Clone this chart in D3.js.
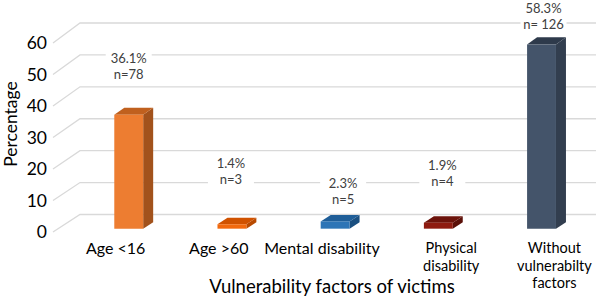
<!DOCTYPE html>
<html>
<head>
<meta charset="utf-8">
<script src="https://cdn.jsdelivr.net/npm/d3@7"></script>
<style>
  body { margin: 0; background: #fff; }
  svg { display: block; font-family: Lato, "Open Sans", sans-serif; }
</style>
</head>
<body>
<div id="chart"></div>
<script>
// Dữ liệu
const categories = ["Age <16", "Age >60", "Mental disability", "Physical disability", "Without vulnerabilty factors"];
const categoryLines = [["Age <16"], ["Age >60"], ["Mental disability"], ["Physical", "disability"], ["Without", "vulnerabilty", "factors"]];
const percents = [36.1, 1.4, 2.3, 1.9, 58.3];
const counts = ["n=78", "n=3", "n=5", "n=4", "n= 126"];
const yTicks = [0, 10, 20, 30, 40, 50, 60];

// màu: mặt trước, mặt trên, mặt bên
const frontColors = ["#ED7D31", "#F2690D", "#2E75B6", "#8E1B10", "#44546A"];
const topColors = ["#C0601E", "#D05200", "#1F5E98", "#6C130B", "#2E3A4B"];
const sideColors = ["#A2521C", "#B84A00", "#1A4F80", "#5A0F08", "#323E4F"];

// vị trí nhãn giá trị (lệch so với đỉnh cột)
const labelShift = [[0, -56], [-1, -61], [8, -38], [4, -57], [2, -36]];

const width = 596, height = 298;
const depthX = 27;            // độ sâu 3D theo x
const z0 = 0.19, z1 = 0.56;   // cột nằm giữa mặt trước và vách sau

const svg = d3.select("#chart").append("svg")
    .attr("width", width)
    .attr("height", height);

const x = d3.scaleBand()
    .domain(categories)
    .range([72, 588])
    .paddingInner(0.72)
    .paddingOuter(0.36);

const yFront = d3.scaleLinear().domain([0, 60]).range([232, 43]);
const yBack = d3.scaleLinear().domain([0, 60]).range([214.5, 23]);

// chiếu điểm (x mặt trước, giá trị, độ sâu z)
function px(xf, z) { return xf + depthX * z; }
function py(v, z) { return yFront(v) * (1 - z) + yBack(v) * z; }

// --- lưới ---
const grid = svg.append("g");
yTicks.forEach(t => {
    grid.append("path")
        .attr("d", `M53,${yFront(t)} L${53 + depthX},${yBack(t)} L${width},${yBack(t)}`)
        .attr("fill", "none")
        .attr("stroke", "#d9d9d9")
        .attr("stroke-width", 1.3);
});

// nhãn trục y
svg.append("g").selectAll("text")
    .data(yTicks)
    .enter().append("text")
    .attr("x", 47)
    .attr("y", d => yFront(d))
    .attr("dy", "0.35em")
    .attr("text-anchor", "end")
    .attr("font-size", 17.5)
    .attr("fill", "#000")
    .text(d => d);

svg.append("text")
    .attr("transform", `translate(17, 124) rotate(-90)`)
    .attr("text-anchor", "middle")
    .attr("font-size", 17.5)
    .attr("fill", "#000")
    .text("Percentage");

// --- cột 3D ---
const bars = svg.append("g");
percents.forEach((v, i) => {
    const xl = x(categories[i]), xr = xl + x.bandwidth();
    const p = (xf, val, z) => `${px(xf, z)},${py(val, z)}`;
    // mặt bên
    bars.append("polygon")
        .attr("points", [p(xr, 0, z0), p(xr, 0, z1), p(xr, v, z1), p(xr, v, z0)].join(" "))
        .attr("fill", sideColors[i]);
    // mặt trên
    bars.append("polygon")
        .attr("points", [p(xl, v, z0), p(xr, v, z0), p(xr, v, z1), p(xl, v, z1)].join(" "))
        .attr("fill", topColors[i]);
    // mặt trước
    bars.append("polygon")
        .attr("points", [p(xl, 0, z0), p(xr, 0, z0), p(xr, v, z0), p(xl, v, z0)].join(" "))
        .attr("fill", frontColors[i]);
});

// --- nhãn giá trị ---
const labels = svg.append("g");
percents.forEach((v, i) => {
    const cx = px(x(categories[i]) + x.bandwidth() / 2, z0) + labelShift[i][0];
    const ty = py(v, z0) + labelShift[i][1];
    labels.append("rect")
        .attr("x", cx - 23)
        .attr("y", ty - 10)
        .attr("width", 46)
        .attr("height", 36)
        .attr("fill", "#fff");
    labels.append("text")
        .attr("x", cx).attr("y", ty).attr("dy", "0.35em")
        .attr("text-anchor", "middle")
        .attr("font-size", 13)
        .attr("fill", "#404040")
        .text(`${v.toFixed(1)}%`);
    labels.append("text")
        .attr("x", cx).attr("y", ty + 16).attr("dy", "0.35em")
        .attr("text-anchor", "middle")
        .attr("font-size", 13)
        .attr("fill", "#404040")
        .text(counts[i]);
});

// --- nhãn danh mục ---
const cats = svg.append("g");
categoryLines.forEach((lines, i) => {
    const c = x(categories[i]) + x.bandwidth() / 2;
    const cx = lines.length > 1 ? c + 18 : c - 8;
    lines.forEach((line, j) => {
        cats.append("text")
            .attr("x", cx)
            .attr("y", 248 + j * 17.5)
            .attr("dy", "0.35em")
            .attr("text-anchor", "middle")
            .attr("font-size", lines.length > 1 ? 14.5 : 16)
            .attr("fill", "#000")
            .text(line);
    });
});

svg.append("text")
    .attr("x", 332)
    .attr("y", 287)
    .attr("dy", "0.35em")
    .attr("text-anchor", "middle")
    .attr("font-size", 18.5)
    .attr("fill", "#000")
    .text("Vulnerability factors of victims");
</script>
</body>
</html>
